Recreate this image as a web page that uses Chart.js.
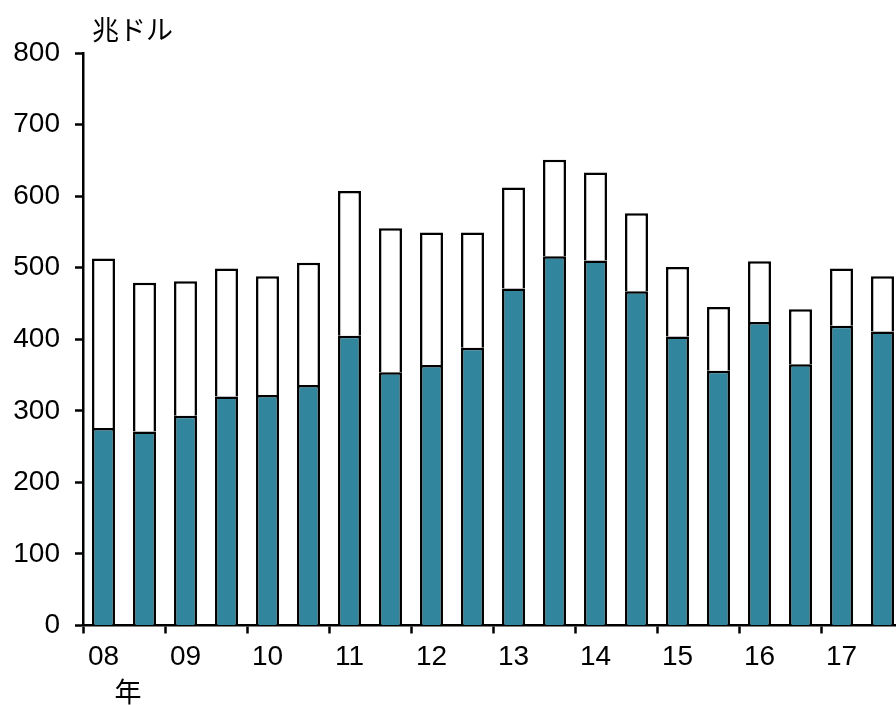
<!DOCTYPE html>
<html>
<head>
<meta charset="utf-8">
<script src="https://cdn.jsdelivr.net/npm/chart.js@4"></script>
<style>
  html, body { margin: 0; padding: 0; background: #fff; overflow: hidden; }
  #wrap { width: 896px; height: 705px; overflow: hidden; }
</style>
</head>
<body>
<div id="wrap"><canvas id="myChart" width="903" height="705"></canvas></div>
<script>
// 年ラベル（半期ごと2本、先頭にだけ年を表示）
const labels = ['08', '', '09', '', '10', '', '11', '', '12', '', '13', '', '14', '', '15', '', '16', '', '17', ''];
// 下段（青）
const lowerValues = [276, 271, 293, 320, 322, 336, 405, 354, 364, 388, 471, 516, 510, 467, 404, 356, 424, 365, 419, 411];
// 合計（棒の頂点）
const totalValues = [513, 479, 481, 499, 488, 507, 607, 555, 549, 549, 612, 651, 633, 576, 501, 445, 509, 442, 499, 488];
const yTicks = [0, 100, 200, 300, 400, 500, 600, 700, 800];

const upperValues = totalValues.map((t, i) => t - lowerValues[i]);

const FONT = '"Liberation Sans Narrow", "Liberation Sans", Arial, sans-serif';
const JP_FONT = '"Noto Sans CJK JP", sans-serif';

// 単位と「年」の文字
const textPlugin = {
    id: 'extraText',
    afterDraw(chart) {
        const ctx = chart.ctx;
        const area = chart.chartArea;
        ctx.save();
        ctx.fillStyle = '#000';
        ctx.font = '27px ' + JP_FONT;
        ctx.textBaseline = 'middle';
        ctx.textAlign = 'left';
        ctx.fillText('兆ドル', area.left + 9, 30);
        ctx.textAlign = 'center';
        ctx.fillText('年', area.left + 45, 692);
        ctx.restore();
    }
};

const ctx = document.getElementById('myChart').getContext('2d');
new Chart(ctx, {
    type: 'bar',
    data: {
        labels: labels,
        datasets: [{
            data: lowerValues,
            backgroundColor: '#31859c',
            borderColor: '#000',
            borderWidth: 2.5,
            barPercentage: 0.56,
            categoryPercentage: 1
        }, {
            data: upperValues,
            backgroundColor: '#fff',
            borderColor: '#000',
            borderWidth: 2.5,
            barPercentage: 0.56,
            categoryPercentage: 1
        }]
    },
    options: {
        responsive: false,
        animation: false,
        layout: { padding: { top: 53, right: 0, left: 0, bottom: 0 } },
        plugins: {
            legend: { display: false },
            tooltip: { enabled: false }
        },
        scales: {
            x: {
                stacked: true,
                offset: true,
                afterFit: s => { s.height = 79.5; },
                border: { display: true, color: '#000', width: 2.5 },
                grid: {
                    offset: true,
                    drawOnChartArea: false,
                    tickLength: 8,
                    tickWidth: 2.5,
                    tickColor: c => (c.index % 2 === 0 ? '#000' : 'rgba(0,0,0,0)')
                },
                ticks: {
                    autoSkip: false,
                    maxRotation: 0,
                    padding: 7,
                    color: '#000',
                    font: { family: FONT, size: 28 }
                }
            },
            y: {
                stacked: true,
                min: 0,
                max: 800,
                afterFit: s => { s.width = 83; },
                afterBuildTicks: s => { s.ticks = yTicks.map(v => ({ value: v })); },
                border: { display: true, color: '#000', width: 2.5 },
                grid: {
                    drawOnChartArea: false,
                    tickLength: 8,
                    tickWidth: 2.5,
                    tickColor: '#000'
                },
                ticks: {
                    padding: 15,
                    color: '#000',
                    font: { family: FONT, size: 28 }
                }
            }
        }
    },
    plugins: [textPlugin]
});
</script>
</body>
</html>
